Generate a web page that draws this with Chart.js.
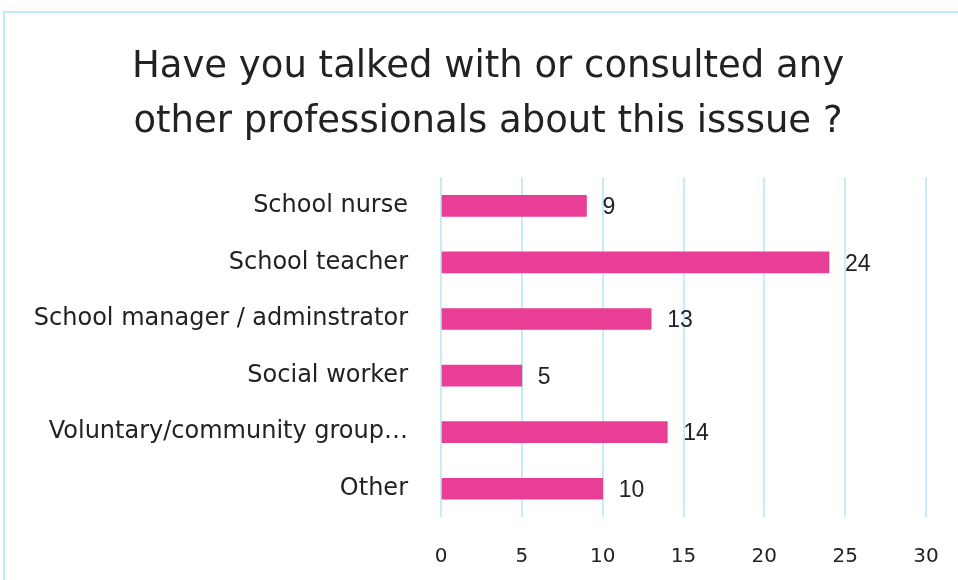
<!DOCTYPE html>
<html lang="en">
  <head>
    <meta charset="UTF-8" />
    <title>Have you talked with or consulted any other professionals about this isssue ?</title>
    <style>
      html, body {
        margin: 0;
        padding: 0;
        background: #fff;
      }
      .frame {
        position: absolute;
        left: 3px;
        top: 11px;
        width: 1000px;
        height: 600px;
        border-left: 2px solid #c3ebfb;
        border-top: 2px solid #c3ebfb;
      }
      .wrap {
        position: absolute;
        left: 0;
        top: 0;
        width: 958px;
        height: 580px;
      }
    </style>
    <script src="https://cdn.jsdelivr.net/npm/chart.js"></script>
  </head>
  <body>
    <div class="frame"></div>
    <div class="wrap">
      <canvas id="chart" width="958" height="580"></canvas>
    </div>
    <script>
      const titleLines = [
        "Have you talked with or consulted any",
        "other professionals about this isssue ?",
      ];
      const categories = [
        "School nurse",
        "School teacher",
        "School manager / adminstrator",
        "Social worker",
        "Voluntary/community group…",
        "Other",
      ];
      const counts = [9, 24, 13, 5, 14, 10];
      const xTicks = [0, 5, 10, 15, 20, 25, 30];

      const textColor = "#222222";
      const barColor = "#e83e95";
      const gridColor = "#c6ecfb";
      const mainFont = '"DejaVu Sans", sans-serif';

      // value labels to the right of each bar
      const valueLabels = {
        id: "valueLabels",
        afterDatasetsDraw(chart) {
          const ctx = chart.ctx;
          const meta = chart.getDatasetMeta(0);
          ctx.save();
          ctx.font = '23px "Liberation Sans", Arial, sans-serif';
          ctx.fillStyle = textColor;
          ctx.textAlign = "left";
          ctx.textBaseline = "middle";
          meta.data.forEach((bar, i) => {
            ctx.fillText(String(counts[i]), bar.x + 16, bar.y + 2);
          });
          ctx.restore();
        },
      };

      new Chart(document.getElementById("chart"), {
        type: "bar",
        data: {
          labels: categories,
          datasets: [
            {
              data: counts,
              backgroundColor: barColor,
              barThickness: 21,
            },
          ],
        },
        options: {
          indexAxis: "y",
          responsive: false,
          animation: false,
          layout: {
            padding: { left: 20, right: 2, top: 10, bottom: 0 },
          },
          plugins: {
            legend: { display: false },
            tooltip: { enabled: false },
            title: {
              display: true,
              text: titleLines,
              color: textColor,
              font: { family: mainFont, size: 37, weight: "normal", lineHeight: 1.48 },
              padding: { top: 30, bottom: 28 },
            },
          },
          scales: {
            x: {
              min: 0,
              max: 30,
              afterBuildTicks(scale) {
                scale.ticks = xTicks.map((v) => ({ value: v }));
              },
              afterFit(scale) {
                scale.height = 63;
                // fixed right margin of the plot area
                scale.paddingRight = 32;
              },
              grid: {
                color: gridColor,
                lineWidth: 2,
                drawTicks: false,
              },
              border: { display: false },
              ticks: {
                color: textColor,
                padding: 28,
                font: { family: mainFont, size: 20 },
              },
            },
            y: {
              afterFit(scale) {
                scale.width = 421;
              },
              grid: { display: false },
              border: { display: false },
              ticks: {
                color: textColor,
                padding: 25,
                font: { family: mainFont, size: 24 },
              },
            },
          },
        },
        plugins: [valueLabels],
      });
    </script>
  </body>
</html>
